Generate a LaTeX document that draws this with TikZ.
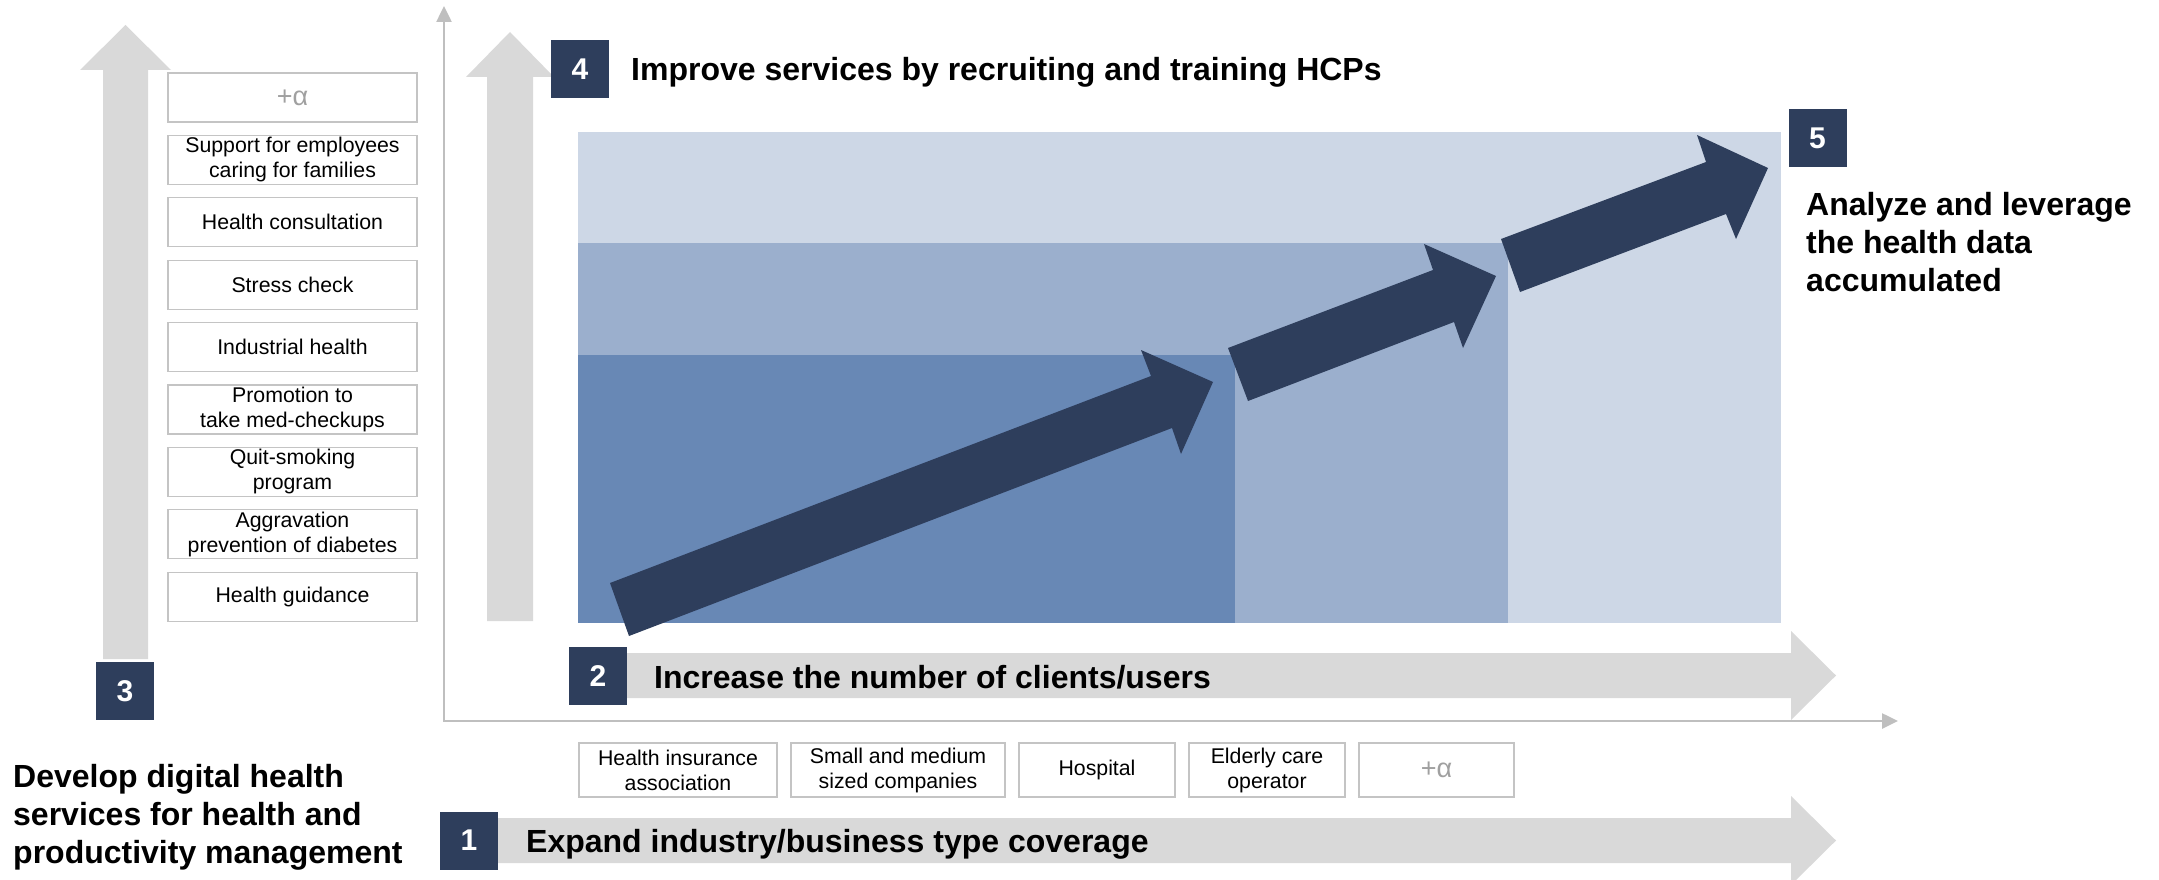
\documentclass[tikz,border=0pt]{standalone}
\usepackage{fontspec}
\setmainfont{Liberation Sans}
\usetikzlibrary{arrows.meta,positioning}

\definecolor{navy}{HTML}{2E3E5C}
\definecolor{lightblue}{HTML}{CDD7E6}
\definecolor{midblue}{HTML}{9BAFCD}
\definecolor{darkblue}{HTML}{6888B5}
\definecolor{bandgray}{HTML}{D9D9D9}
\definecolor{axisgray}{HTML}{BFBFBF}
\definecolor{boxline}{HTML}{C4C4C4}
\definecolor{alphagray}{HTML}{A0A0A0}

\begin{document}
\begin{tikzpicture}[
    x=1pt, y=-1pt,
    node distance=12.2pt and 12.8pt,
    numbox/.style={rectangle,fill=navy,text=white,font=\fontsize{30}{36}\selectfont\bfseries,minimum width=58pt,minimum height=58pt,inner sep=0pt},
    item/.style={rectangle,draw=boxline,line width=1.2pt,fill=white,align=center,font=\fontsize{21.3}{25}\selectfont,minimum width=249pt,minimum height=49pt,inner sep=0pt},
    client/.style={item,minimum height=54pt},
    plusalpha/.style={text=alphagray,font=\fontsize{27}{30}\selectfont},
    head/.style={anchor=base west,inner sep=0pt,align=left,font=\fontsize{32}{38}\selectfont\bfseries},
    band/.style={fill=bandgray},
    bigarr/.style={fill=navy},
    axis/.style={draw=axisgray,line width=2.5pt,{Triangle[length=16pt,width=15pt]}-{Triangle[length=16pt,width=15pt]}}
]
\useasboundingbox (0,0) rectangle (2159,880);

% vertical gray arrows
\fill[band] (103,659) -- (103,70) -- (80,70) -- (125.5,25) -- (171,70) -- (148,70) -- (148,659) -- cycle;
\fill[band] (487,621) -- (487,77) -- (466,77) -- (510,32) -- (554,77) -- (533,77) -- (533,621) -- cycle;

% growth area
\fill[lightblue] (578,132) rectangle (1781,623);
\fill[midblue] (578,243) rectangle (1508,623);
\fill[darkblue] (578,355) rectangle (1235,623);

\fill[bigarr] (610,583) -- (1151,376) -- (1141,350) -- (1213,382) -- (1181,454) -- (1172,428) -- (629,636) -- cycle;
\fill[bigarr] (1228,348) -- (1433,270) -- (1424,244) -- (1496,276) -- (1463,348) -- (1454,322) -- (1248,401) -- cycle;
\fill[bigarr] (1501,239) -- (1706,162) -- (1697,135) -- (1768,168) -- (1736,239) -- (1726,214) -- (1520,292) -- cycle;

% horizontal gray arrows
\fill[band] (600,653) -- (1791,653) -- (1791,631) -- (1836,675.5) -- (1791,720) -- (1791,698) -- (600,698) -- cycle;
\fill[band] (480,818) -- (1791,818) -- (1791,796) -- (1836,840.5) -- (1791,885) -- (1791,863) -- (480,863) -- cycle;

% axes
\coordinate (ytop) at (444,6);
\coordinate (xend) at (1898,721);
\draw[axis] (ytop) |- (xend);

% services
\node[item,plusalpha] (s1) at (292.5,97.5) {+α};
\node[item,below=of s1] (s2) {Support for employees\\caring for families};
\node[item,below=of s2] (s3) {Health consultation};
\node[item,below=of s3] (s4) {Stress check};
\node[item,below=of s4] (s5) {Industrial health};
\node[item,below=of s5] (s6) {Promotion to\\take med-checkups};
\node[item,below=of s6] (s7) {Quit-smoking\\program};
\node[item,below=of s7] (s8) {Aggravation\\prevention of diabetes};
\node[item,below=of s8] (s9) {Health guidance};

% clients
\node[client,minimum width=198pt] (c1) at (678,770) {Health insurance\\association};
\node[client,minimum width=214pt,right=of c1] (c2) {Small and medium\\sized companies};
\node[client,minimum width=156pt,right=of c2] (c3) {Hospital};
\node[client,minimum width=156pt,right=of c3] (c4) {Elderly care\\operator};
\node[client,minimum width=155pt,right=of c4,plusalpha] (c5) {+α};

% numbered steps
\node[numbox] (n1) at (469,840.5) {1};
\node[numbox] (n2) at (598,676) {2};
\node[numbox] (n3) at (125,691) {3};
\node[numbox] (n4) at (580,69) {4};
\node[numbox] (n5) at (1817.5,138) {5};

\node[head] (t1) at (526,852) {Expand industry/business type coverage};
\node[head] (t2) at (654,688) {Increase the number of clients/users};
\node[head] (t3) at (13,863) {Develop digital health\\services for health and\\productivity management};
\node[head] (t4) at (631,81) {Improve services by recruiting and training HCPs};
\node[head] (t5) at (1806,291) {Analyze and leverage\\the health data\\accumulated};
\end{tikzpicture}
\end{document}
